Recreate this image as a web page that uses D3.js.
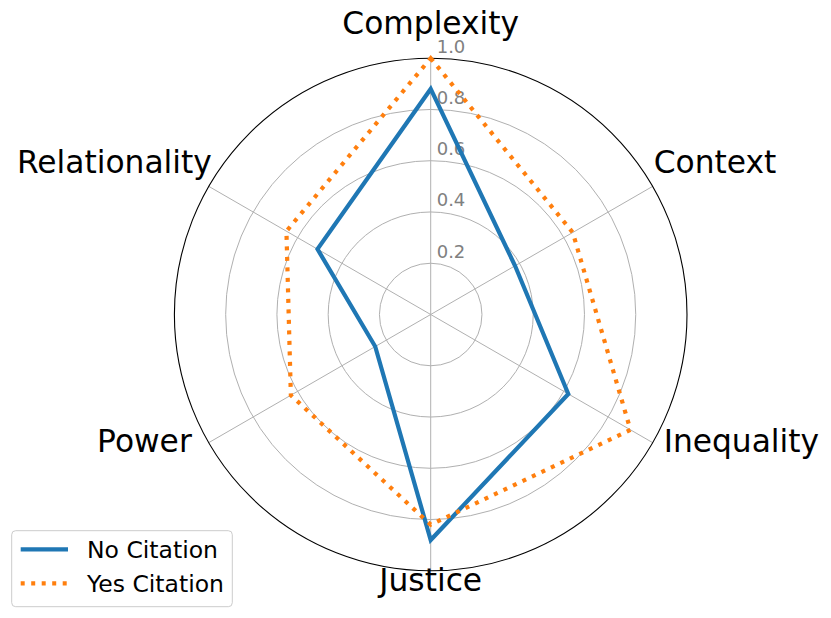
<!DOCTYPE html>
<html>
<head>
<meta charset="utf-8">
<script src="https://cdn.jsdelivr.net/npm/d3@7"></script>
<style>
  html, body { margin: 0; padding: 0; background: #fff; }
  svg { display: block; font-family: "DejaVu Sans", sans-serif; }
</style>
</head>
<body>
<svg id="chart" width="831" height="618"></svg>
<script>
// ---- data ----
const categories = ["Complexity", "Context", "Inequality", "Justice", "Power", "Relationality"];
const noCitation = [0.88, 0.38, 0.62, 0.88, 0.25, 0.51];
const yesCitation = [1.0, 0.64, 0.90, 0.82, 0.63, 0.65];
const seriesNames = ["No Citation", "Yes Citation"];
const radialTicks = [0.2, 0.4, 0.6, 0.8, 1.0];
const radialTickLabels = ["0.2", "0.4", "0.6", "0.8", "1.0"];

// ---- layout ----
const cx = 430.7, cy = 314.5, R = 256.3;
const colors = ["#1f77b4", "#ff7f0e"];
const labelLayout = [
  { dx: 0, dy: -24, anchor: "middle" },
  { dx: 1, dy: -13, anchor: "start" },
  { dx: 11, dy: 9, anchor: "start" },
  { dx: 0, dy: 20, anchor: "middle" },
  { dx: -17, dy: 9, anchor: "end" },
  { dx: 3, dy: -13, anchor: "end" }
];

const svg = d3.select("#chart");
const g = svg.append("g").attr("transform", `translate(${cx},${cy})`);

const r = d3.scaleLinear().domain([0, 1]).range([0, R]);
const ang = c => categories.indexOf(c) * 2 * Math.PI / categories.length;
const px = (a, v) => r(v) * Math.sin(a);
const py = (a, v) => -r(v) * Math.cos(a);

// grid circles
g.selectAll("circle.grid").data(radialTicks.filter(t => t < 1))
  .enter().append("circle")
  .attr("r", d => r(d)).attr("fill", "none")
  .attr("stroke", "#b0b0b0").attr("stroke-width", 1);

// spokes
g.selectAll("line.spoke").data(categories).enter().append("line")
  .attr("x1", 0).attr("y1", 0)
  .attr("x2", d => px(ang(d), 1)).attr("y2", d => py(ang(d), 1))
  .attr("stroke", "#b0b0b0").attr("stroke-width", 1);

// outer spine
g.append("circle").attr("r", r(1)).attr("fill", "none")
  .attr("stroke", "#000").attr("stroke-width", 1.1);

// radial tick labels
g.selectAll("text.rtick").data(radialTicks).enter().append("text")
  .attr("x", 6).attr("y", d => -r(d) - 5.5)
  .attr("text-anchor", "start")
  .attr("font-size", 18).attr("fill", "#808080")
  .text((d, i) => radialTickLabels[i]);

// category labels
g.selectAll("text.cat").data(categories).enter().append("text")
  .attr("x", (d, i) => px(ang(d), 1) + labelLayout[i].dx)
  .attr("y", (d, i) => py(ang(d), 1) + labelLayout[i].dy)
  .attr("text-anchor", (d, i) => labelLayout[i].anchor)
  .attr("font-size", 31.3).attr("fill", "#000")
  .text(d => d);

// series
const line = d3.lineRadial()
  .angle((d, i) => ang(categories[i]))
  .radius(d => r(d))
  .curve(d3.curveLinearClosed);

const series = [noCitation, yesCitation];
const dashes = [null, "4,6.5"];
series.forEach((vals, k) => {
  g.append("path")
    .attr("d", line(vals))
    .attr("fill", "none")
    .attr("stroke", colors[k])
    .attr("stroke-width", 4.2)
    .attr("stroke-linejoin", "miter")
    .attr("stroke-dasharray", dashes[k]);
});

// legend
const lg = svg.append("g");
lg.append("rect").attr("x", 11.7).attr("y", 530.7).attr("width", 220.6).attr("height", 76)
  .attr("rx", 4).attr("fill", "#fff").attr("fill-opacity", 0.8)
  .attr("stroke", "#cccccc").attr("stroke-width", 1);
seriesNames.forEach((name, k) => {
  const y = 549.3 + k * 34;
  lg.append("line").attr("x1", 20.7).attr("x2", 68).attr("y1", y).attr("y2", y)
    .attr("stroke", colors[k]).attr("stroke-width", 4.2)
    .attr("stroke-dasharray", dashes[k]);
  lg.append("text").attr("x", 87).attr("y", y + 8.3)
    .attr("font-size", 23.5).attr("fill", "#000").text(name);
});
</script>
</body>
</html>
